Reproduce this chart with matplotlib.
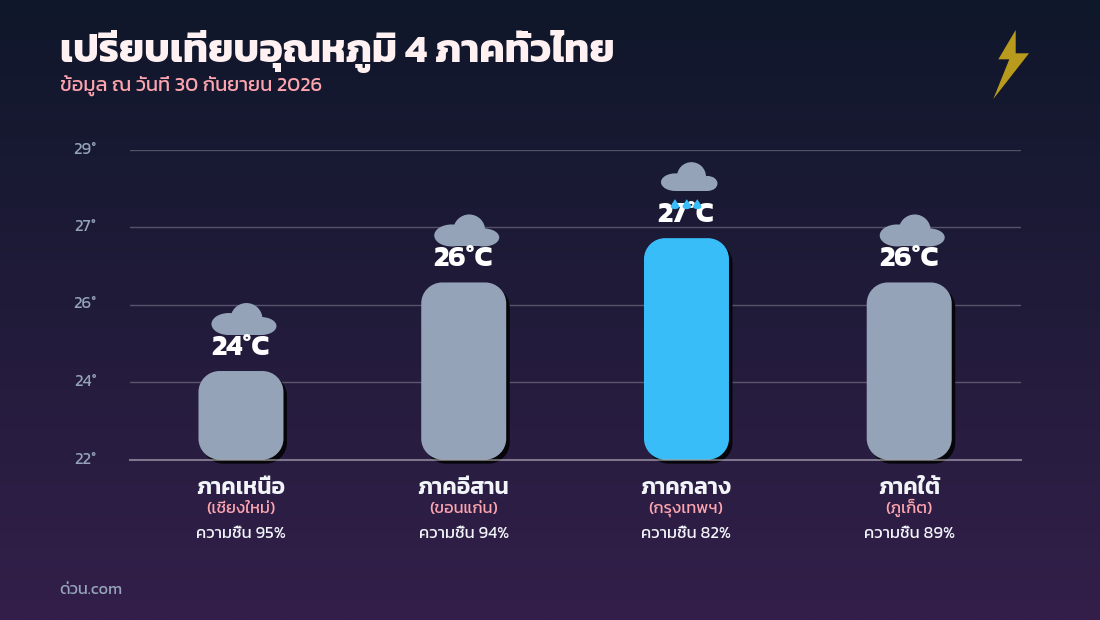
import numpy as np
import matplotlib
matplotlib.use('Agg')
import matplotlib.pyplot as plt
from matplotlib.patches import Polygon, Ellipse, PathPatch, Rectangle
from matplotlib.path import Path
from matplotlib.colors import LinearSegmentedColormap
from matplotlib.transforms import offset_copy, ScaledTranslation

FONT = ['Kanit', 'DejaVu Sans']
TITLE = 'เปรียบเทียบอุณหภูมิ 4 ภาคทั่วไทย'
SUBTITLE = 'ข้อมูล ณ วันที่ 30 กันยายน 2026'
SOURCE = 'ด่วน.com'
regions = ['ภาคเหนือ', 'ภาคอีสาน', 'ภาคกลาง', 'ภาคใต้']
cities = ['(เชียงใหม่)', '(ขอนแก่น)', '(กรุงเทพฯ)', '(ภูเก็ต)']
temps = [24, 26, 27, 26]
humidity = [95, 94, 82, 89]
rainy = [False, False, True, False]
tick_values = [22, 23.75, 25.5, 27.25, 29]
tick_labels = ['22°', '24°', '26°', '27°', '29°']

W, H = 1100, 620
fig = plt.figure(figsize=(W / 100, H / 100), dpi=100)

# background gradient
bg = fig.add_axes([0, 0, 1, 1], zorder=0)
bg.axis('off')
cmap = LinearSegmentedColormap.from_list('bg', ['#0f172a', '#331f4a'])
bg.imshow(np.linspace(0, 1, 256)[:, None], cmap=cmap, aspect='auto', extent=[0, 1, 0, 1])

# chart axes
L, R, T, B = 129.6, 1020.6, 149.6, 459.6
ax = fig.add_axes([L / W, 1 - B / H, (R - L) / W, (B - T) / H], zorder=1)
ax.patch.set_alpha(0)
ax.set_xlim(-0.5, 3.5)
ax.set_ylim(22, 29)
for s in ax.spines.values():
    s.set_visible(False)
ax.set_xticks([])
ax.set_yticks(tick_values)
ax.set_yticklabels(tick_labels, fontfamily=FONT, fontsize=12, color='#94a3b8')
ax.tick_params(axis='y', length=0, pad=23.7)
for lab in ax.get_yticklabels():
    lab.set_transform(lab.get_transform() + ScaledTranslation(0, 1.6 / 100, fig.dpi_scale_trans))
for v in tick_values[1:]:
    ax.axhline(v, color='#ffffff', alpha=0.25, lw=1, zorder=1)

px_x = (R - L) / 4
px_y = (B - T) / 7
bar_px = 85
radius_px = 21
x = np.arange(len(temps))
colors = ['#38bdf8' if r else '#94a3b8' for r in rainy]
shadow_tf = offset_copy(ax.transData, fig=fig, x=3.5, y=-4, units='dots')

def rounded(bx, by, bw, bh, rx, ry):
    k = 0.5523
    x0, x1, y0, y1 = bx, bx + bw, by, by + bh
    verts = [(x0 + rx, y0), (x1 - rx, y0),
             (x1 - rx + k * rx, y0), (x1, y0 + ry - k * ry), (x1, y0 + ry),
             (x1, y1 - ry),
             (x1, y1 - ry + k * ry), (x1 - rx + k * rx, y1), (x1 - rx, y1),
             (x0 + rx, y1),
             (x0 + rx - k * rx, y1), (x0, y1 - ry + k * ry), (x0, y1 - ry),
             (x0, y0 + ry),
             (x0, y0 + ry - k * ry), (x0 + rx - k * rx, y0), (x0 + rx, y0)]
    codes = [Path.MOVETO, Path.LINETO, Path.CURVE4, Path.CURVE4, Path.CURVE4, Path.LINETO,
             Path.CURVE4, Path.CURVE4, Path.CURVE4, Path.LINETO,
             Path.CURVE4, Path.CURVE4, Path.CURVE4, Path.LINETO,
             Path.CURVE4, Path.CURVE4, Path.CURVE4]
    return Path(verts, codes)

bars = ax.bar(x, np.array(temps) - 22, bottom=22, width=bar_px / px_x, color=colors, zorder=3)
for rect, c in zip(bars, colors):
    p = rounded(rect.get_x(), rect.get_y(), rect.get_width(), rect.get_height(),
                radius_px / px_x, radius_px / px_y)
    ax.add_patch(PathPatch(p, fc='#05050a', ec='none', transform=shadow_tf, zorder=2, clip_on=False))
    ax.add_patch(PathPatch(p, fc=c, ec='none', zorder=3, clip_on=False))
    rect.set_visible(False)
ax.axhline(22, color='#ffffff', alpha=0.4, lw=1.5, zorder=4, clip_on=False)

# overlay in pixel coordinates
ov = fig.add_axes([0, 0, 1, 1], zorder=2)
ov.set_xlim(0, W)
ov.set_ylim(H, 0)
ov.axis('off')

def to_px(xv, yv):
    px, py = ax.transData.transform((xv, yv))
    return px, H - py

def cloud(cx, top, color='#94a3b8'):
    ov.add_patch(Ellipse((cx + 5.5, top + 16), 32, 32, fc=color, ec='none', zorder=5))
    ov.add_patch(Ellipse((cx - 12, top + 21), 35, 22, fc=color, ec='none', zorder=5))
    ov.add_patch(Ellipse((cx + 20, top + 23), 31, 18, fc=color, ec='none', zorder=5))
    ov.add_patch(Rectangle((cx - 12, top + 18), 32, 14, fc=color, ec='none', zorder=5))

def rain_cloud(cx, top, color='#94a3b8'):
    ov.add_patch(Ellipse((cx + 5, top + 14.4), 29, 28.8, fc=color, ec='none', zorder=5))
    ov.add_patch(Ellipse((cx - 11, top + 20), 29, 17.6, fc=color, ec='none', zorder=5))
    ov.add_patch(Ellipse((cx + 21, top + 21.3), 20, 15, fc=color, ec='none', zorder=5))
    ov.add_patch(Rectangle((cx - 11, top + 18), 32, 10.8, fc=color, ec='none', zorder=5))

def drop(cx, cy, color='#38bdf8'):
    s = 5
    verts = [(cx, cy - s), (cx + 0.6 * s, cy - 0.1 * s), (cx + s * .85, cy + .3 * s), (cx + s * .85, cy + .45 * s),
             (cx + s * .85, cy + s), (cx, cy + s), (cx, cy + s),
             (cx, cy + s), (cx - s * .85, cy + s), (cx - s * .85, cy + .45 * s),
             (cx - s * .85, cy + .3 * s), (cx - .6 * s, cy - .1 * s), (cx, cy - s)]
    codes = [Path.MOVETO] + [Path.CURVE4] * 12
    ov.add_patch(PathPatch(Path(verts, codes), fc=color, ec='none', zorder=8))

for i, t in enumerate(temps):
    cx, top = to_px(i, t)
    ov.text(cx - 0.5, top - 16, f'{t}°C', family=FONT, fontsize=21, fontweight='bold', color='#ffffff',
            ha='center', va='baseline', zorder=7)
    if rainy[i]:
        rain_cloud(cx, top - 76)
        for dx in (-11.5, 0.3, 10.8):
            drop(cx + dx, top - 34)
    else:
        cloud(cx, top - 68)

for i, (rg, ct, hm) in enumerate(zip(regions, cities, humidity)):
    cx, _ = to_px(i, 22)
    ov.text(cx - 0.4, 494, rg, family=FONT, fontsize=16.5, fontweight=600, color='#f1f5f9', ha='center', va='baseline')
    ov.text(cx - 0.4, 513, ct, family=FONT, fontsize=11.85, color='#fda4af', ha='center', va='baseline')
    ov.text(cx, 538, f'ความชื้น {hm}%', family=FONT, fontsize=12, color='#f1f5f9', ha='center', va='baseline')

ov.text(60, 62, TITLE, family=FONT, fontsize=28.7, fontweight='bold', color='#fff1f2', va='baseline')
ov.text(60, 92, SUBTITLE, family=FONT, fontsize=14.5, color='#fda4af', va='baseline')
ov.text(59.4, 594, SOURCE, family=FONT, fontsize=11.8, color='#94a3b8', va='baseline')

# lightning bolt
bolt_x = [1015.7, 998.3, 1009.3, 993.3, 1029, 1015.7]
bolt_y = [30, 59.3, 59.3, 99, 53.3, 53.3]
ov.add_patch(Polygon(np.column_stack([bolt_x, bolt_y]), closed=True, fc='#b89b1c', ec='none', zorder=5))

fig.savefig('out.png', dpi=100)
